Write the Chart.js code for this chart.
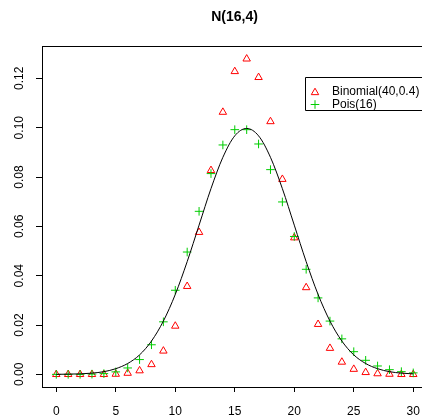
<!DOCTYPE html>
<html>
<head>
<meta charset="utf-8">
<script src="https://cdn.jsdelivr.net/npm/chart.js@4.4.0/dist/chart.umd.min.js"></script>
<style>
    html, body { margin: 0; padding: 0; background: #fff; overflow: hidden; }
    #wrap { width: 422px; height: 419px; }
</style>
</head>
<body>
<div id="wrap"><canvas id="chart" width="422" height="419"></canvas></div>
<script>
const chartTitle = 'N(16,4)';
const xValues = [0, 1, 2, 3, 4, 5, 6, 7, 8, 9, 10, 11, 12, 13, 14, 15, 16, 17, 18, 19, 20, 21, 22, 23, 24, 25, 26, 27, 28, 29, 30];
const binomLabel = 'Binomial(40,0.4)';
const binomValues = [0, 0, 0, 0, 0, 0.0001, 0.0005, 0.0015, 0.0040, 0.0095, 0.0196, 0.0357, 0.0576, 0.0827, 0.1063, 0.1228,
    0.1279, 0.1204, 0.1025, 0.0791, 0.0554, 0.0352, 0.0203, 0.0106, 0.0050, 0.0021, 0.0008, 0.0003, 0.0001, 0, 0];
const poisLabel = 'Pois(16)';
const poisValues = [0, 0, 0, 0.0001, 0.0003, 0.0010, 0.0026, 0.0060, 0.0120, 0.0213, 0.0341, 0.0496, 0.0661, 0.0814, 0.0930, 0.0992,
    0.0992, 0.0934, 0.0830, 0.0699, 0.0559, 0.0426, 0.0310, 0.0216, 0.0144, 0.0092, 0.0057, 0.0034, 0.0019, 0.0011, 0.0006];
const normalValues = [0.0000, 0.0001, 0.0002, 0.0005, 0.0011, 0.0023, 0.0044, 0.0079, 0.0135, 0.0216, 0.0324, 0.0457, 0.0605, 0.0753, 0.0880, 0.0967,
    0.0997, 0.0967, 0.0880, 0.0753, 0.0605, 0.0457, 0.0324, 0.0216, 0.0135, 0.0079, 0.0044, 0.0023, 0.0011, 0.0005, 0.0002];
const xTicks = [0, 5, 10, 15, 20, 25, 30];
const yTicks = [0, 0.02, 0.04, 0.06, 0.08, 0.10, 0.12];

const RED = '#ff0000';
const GREEN = '#00cd00';

function toPoints(ys) {
    return xValues.map((x, i) => ({ x: x, y: ys[i] }));
}

// title, top border, rotated y labels and legend, drawn like base R does
const rStyle = {
    id: 'rStyle',
    afterDraw(chart) {
        const ctx = chart.ctx;
        const area = chart.chartArea;
        const yScale = chart.scales.y;
        ctx.save();

        ctx.strokeStyle = '#000';
        ctx.lineWidth = 1;
        ctx.beginPath();
        ctx.moveTo(area.left, area.top + 0.5);
        ctx.lineTo(area.right + 8, area.top + 0.5);
        ctx.stroke();

        ctx.fillStyle = '#000';
        ctx.font = 'bold 14px "Liberation Sans", Arial, sans-serif';
        ctx.textAlign = 'center';
        ctx.textBaseline = 'middle';
        ctx.fillText(chartTitle, 234.5, 17);

        ctx.font = '12px "Liberation Sans", Arial, sans-serif';
        yScale.ticks.forEach(t => {
            const py = yScale.getPixelForValue(t.value);
            ctx.save();
            ctx.translate(20, py);
            ctx.rotate(-Math.PI / 2);
            ctx.fillText(t.value.toFixed(2), 0, 0);
            ctx.restore();
        });

        // legend box, runs off the right edge like the original
        const lx = 305.5, ly = 77.5;
        ctx.beginPath();
        ctx.moveTo(area.right + 8, ly);
        ctx.lineTo(lx, ly);
        ctx.lineTo(lx, 110.5);
        ctx.lineTo(area.right + 8, 110.5);
        ctx.stroke();

        const rows = [
            { label: binomLabel, color: RED, style: 'triangle', y: 92 },
            { label: poisLabel, color: GREEN, style: 'cross', y: 104.5 }
        ];
        rows.forEach(r => {
            ctx.strokeStyle = r.color;
            ctx.fillStyle = 'rgba(0,0,0,0)';
            Chart.helpers.drawPoint(ctx, { pointStyle: r.style, radius: 4.3, borderWidth: 1 }, 315, r.style === 'triangle' ? r.y + 0.5 : r.y);
            ctx.fillStyle = '#000';
            ctx.textAlign = 'left';
            ctx.fillText(r.label, 332, r.y);
        });

        ctx.restore();
    }
};

new Chart(document.getElementById('chart'), {
    type: 'scatter',
    data: {
        datasets: [
            {
                label: 'N(16,4)',
                data: toPoints(normalValues),
                showLine: true,
                borderColor: '#000',
                borderWidth: 1,
                pointRadius: 0,
                cubicInterpolationMode: 'monotone',
                order: 0
            },
            {
                label: poisLabel,
                data: toPoints(poisValues),
                pointStyle: 'cross',
                pointRadius: 4.3,
                borderColor: GREEN,
                borderWidth: 1,
                order: 1
            },
            {
                label: binomLabel,
                data: toPoints(binomValues),
                pointStyle: 'triangle',
                pointRadius: 4.3,
                borderColor: RED,
                backgroundColor: 'rgba(0,0,0,0)',
                borderWidth: 1,
                order: 2
            }
        ]
    },
    options: {
        responsive: false,
        animation: false,
        layout: { autoPadding: false, padding: { top: 46, left: 0, right: 1, bottom: 0 } },
        plugins: {
            legend: { display: false },
            title: { display: false },
            tooltip: { enabled: false }
        },
        scales: {
            x: {
                type: 'linear',
                min: -1.2,
                max: 30.65,
                afterBuildTicks: (scale) => { scale.ticks = xTicks.map(v => ({ value: v })); },
                afterFit: (scale) => {
                    scale.height = 32;
                    scale.paddingLeft = 0;
                    scale.paddingRight = 0;
                },
                grid: { drawOnChartArea: false, drawTicks: true, tickLength: 5, tickColor: '#000' },
                border: { display: true, color: '#000', width: 1 },
                ticks: {
                    color: '#000',
                    padding: 12,
                    maxRotation: 0,
                    font: { size: 12, family: '"Liberation Sans", Arial, sans-serif' },
                    callback: (v) => String(v)
                }
            },
            y: {
                type: 'linear',
                min: -0.00512,
                max: 0.13312,
                afterBuildTicks: (scale) => { scale.ticks = yTicks.map(v => ({ value: v })); },
                afterFit: (scale) => {
                    scale.width = 42;
                    scale.paddingTop = 0;
                    scale.paddingBottom = 0;
                },
                grid: { drawOnChartArea: false, drawTicks: true, tickLength: 6, tickColor: '#000' },
                border: { display: true, color: '#000', width: 1 },
                ticks: { display: false }
            }
        }
    },
    plugins: [rStyle]
});
</script>
</body>
</html>
